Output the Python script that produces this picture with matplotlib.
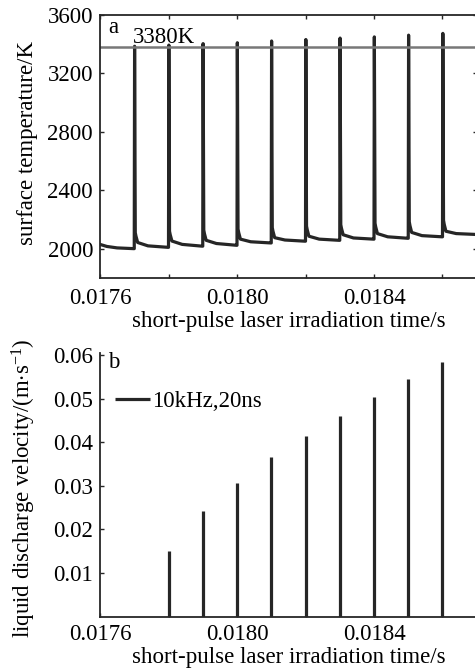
import matplotlib
matplotlib.use("Agg")
import matplotlib.pyplot as plt

plt.rcParams['font.family'] = ['Liberation Serif', 'DejaVu Serif']
plt.rcParams['mathtext.fontset'] = 'custom'
plt.rcParams['mathtext.rm'] = 'Liberation Serif'
plt.rcParams['mathtext.it'] = 'Liberation Serif:italic'

# ---------------- data ----------------
# panel a: surface temperature
init_t = [0.01760, 0.01762, 0.01765, 0.017698]
init_T = [2030, 2016, 2006, 2001]
pulse_t = [0.0177, 0.0178, 0.0179, 0.0180, 0.0181, 0.0182, 0.0183, 0.0184, 0.0185, 0.0186]
peak_T = [3386, 3394, 3404, 3410, 3422, 3432, 3442, 3450, 3462, 3474]
knee_T = [2110, 2120, 2128, 2135, 2145, 2155, 2165, 2175, 2185, 2195]
post_T = [2043, 2053, 2058, 2066, 2076, 2086, 2096, 2104, 2112, 2120]
mid_T = [2020, 2030, 2036, 2048, 2060, 2066, 2074, 2082, 2090, 2104]
end_T = [2010, 2018, 2024, 2040, 2052, 2058, 2066, 2072, 2082, 2098]
melt_T = 3380

# panel b: liquid discharge velocity
vel_t = [0.0178, 0.0179, 0.0180, 0.0181, 0.0182, 0.0183, 0.0184, 0.0185, 0.0186]
vel = [0.0150, 0.0242, 0.0307, 0.0365, 0.0415, 0.0459, 0.0503, 0.0544, 0.0584]

xticks_major = [0.0176, 0.0180, 0.0184]
xticks_minor = [0.0178, 0.0182, 0.0186]
xtick_labels = ['0.0176', '0.0180', '0.0184']
yticks_a = [2000, 2400, 2800, 3200, 3600]
yticks_b = [0.01, 0.02, 0.03, 0.04, 0.05, 0.06]
ytick_labels_b = ['0.01', '0.02', '0.03', '0.04', '0.05', '0.06']

# ---------------- build temperature trace ----------------
t_list = list(init_t)
T_list = list(init_T)
for i, tp in enumerate(pulse_t):
    t_next = pulse_t[i + 1] if i + 1 < len(pulse_t) else 0.0187
    t_list += [tp, tp + 1.0e-6, tp + 3.0e-6, tp + 5.0e-6, tp + 10e-6, tp + 40e-6, t_next - 2e-6]
    T_list += [T_list[-1], peak_T[i], knee_T[i], (knee_T[i] + post_T[i]) / 2 + 10,
               post_T[i], mid_T[i], end_T[i]]

W, H = 475, 671
fig = plt.figure(figsize=(W / 100, H / 100), dpi=100)

ink = '#262626'
fs = 16.5


def px_axes(l, t, r, b):
    return [l / W, 1 - b / H, (r - l) / W, (b - t) / H]


# ---------------- panel a ----------------
ax1 = fig.add_axes(px_axes(100, 15, 476.75, 278))
ax1.plot(t_list, T_list, color=ink, lw=2.3, solid_joinstyle='round')
ax1.axhline(melt_T, color='#787878', lw=1.8)
ax1.set_xlim(0.0176, 0.0187)
ax1.set_ylim(1800, 3600)
ax1.set_xticks(xticks_major)
ax1.set_xticks(xticks_minor, minor=True)
ax1.set_xticklabels(xtick_labels)
ax1.set_yticks(yticks_a)
ax1.tick_params(which='both', direction='in', length=3, width=1.0, top=True, right=True,
                labelsize=fs, pad=5, color=ink)
ax1.tick_params(axis='x', which='both', pad=7)
ax1.set_ylabel('surface temperature/K', fontsize=fs)
ax1.yaxis.set_label_coords(-0.1646, 0.515)
ax1.set_xlabel('short-pulse laser irradiation time/s', fontsize=fs, labelpad=2)
ax1.text(0.021, 0.9316, 'a', transform=ax1.transAxes, fontsize=fs, va='baseline', ha='left')
ax1.text(0.0876, 3408, '3380K', fontsize=fs, va='baseline', ha='left',
         transform=ax1.get_yaxis_transform())
for s in ax1.spines.values():
    s.set_linewidth(1.3)
    s.set_color(ink)

# ---------------- panel b ----------------
ax2 = fig.add_axes(px_axes(100, 352.7, 476.75, 616.7))
ax2.vlines(vel_t, 0, vel, color=ink, lw=2.3, label='10kHz,20ns')
ax2.set_xlim(0.0176, 0.0187)
ax2.set_ylim(0, 0.0605)
ax2.set_xticks(xticks_major)
ax2.set_xticks(xticks_minor, minor=True)
ax2.set_xticklabels(xtick_labels)
ax2.set_yticks(yticks_b)
ax2.set_yticklabels(ytick_labels_b)
ax2.tick_params(which='both', direction='in', length=3, width=1.0,
                labelsize=fs, pad=5, color=ink)
ax2.spines['top'].set_visible(False)
ax2.spines['right'].set_visible(False)
for s in ax2.spines.values():
    s.set_linewidth(1.3)
    s.set_color(ink)
ax2.set_ylabel('liquid discharge velocity/(m$\\cdot$s$^{-1}$)', fontsize=fs)
ax2.yaxis.set_label_coords(-0.1646, 0.485)
ax2.set_xlabel('short-pulse laser irradiation time/s', fontsize=fs, labelpad=2)
ax2.text(0.021, 0.942, 'b', transform=ax2.transAxes, fontsize=fs, va='baseline', ha='left')
ax2.legend(loc='center left', bbox_to_anchor=(0.0398, 0.814), frameon=False,
           fontsize=fs, handlelength=1.53, handletextpad=0.1, borderpad=0, borderaxespad=0)

fig.savefig('out.png', dpi=100)
